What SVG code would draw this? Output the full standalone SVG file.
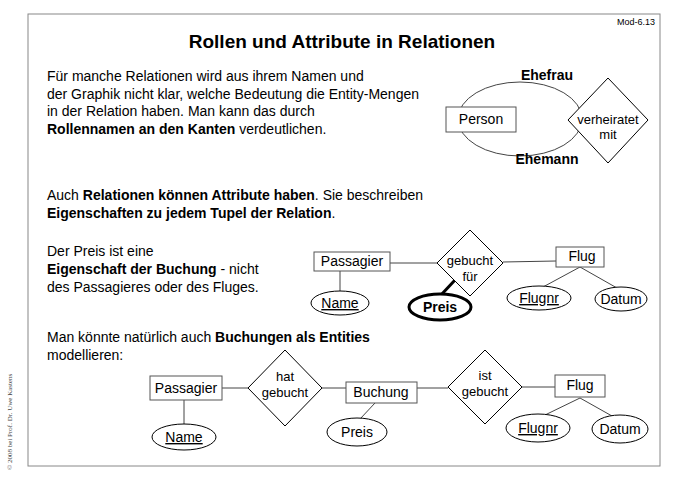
<svg xmlns="http://www.w3.org/2000/svg" width="678" height="480" viewBox="0 0 678 480">
<style>
text{font-family:"Liberation Sans",Arial,sans-serif;font-size:14px;fill:#000}
.b{font-weight:bold}
.c{text-anchor:middle}
.d{font-size:13px}
.box{fill:#fff;stroke:#555;stroke-width:1}
.dia{fill:#fff;stroke:#000;stroke-width:1}
.ell{fill:#fff;stroke:#000;stroke-width:1}
.ln{stroke:#444;stroke-width:1;fill:none}
</style>
<rect x="28" y="14" width="632" height="452" fill="#fff" stroke="#888" stroke-width="1"/>
<text x="655" y="25" style="font-size:9px;text-anchor:end">Mod-6.13</text>
<text x="342" y="48" class="b c" style="font-size:19px">Rollen und Attribute in Relationen</text>
<text x="47" y="81">Für manche Relationen wird aus ihrem Namen und</text>
<text x="47" y="99">der Graphik nicht klar, welche Bedeutung die Entity-Mengen</text>
<text x="47" y="116">in der Relation haben. Man kann das durch</text>
<text x="47" y="134"><tspan class="b">Rollennamen an den Kanten</tspan> verdeutlichen.</text>
<text x="47" y="200">Auch <tspan class="b">Relationen können Attribute haben</tspan>. Sie beschreiben</text>
<text x="47" y="218"><tspan class="b">Eigenschaften zu jedem Tupel der Relation</tspan>.</text>
<text x="47" y="256">Der Preis ist eine</text>
<text x="47" y="274"><tspan class="b">Eigenschaft der Buchung</tspan> - nicht</text>
<text x="47" y="292">des Passagieres oder des Fluges.</text>
<text x="47" y="342">Man könnte natürlich auch <tspan class="b">Buchungen als Entities</tspan></text>
<text x="47" y="360">modellieren:</text>
<text transform="translate(12,470) rotate(-90)" style="font-family:'Liberation Serif',serif;font-size:7px;fill:#444">© 2008 bei Prof. Dr. Uwe Kastens</text>
<g id="connectors">
<ellipse cx="520" cy="119" rx="62" ry="37" class="ln"/>
<line x1="390" y1="263" x2="437" y2="263" class="ln"/>
<line x1="503" y1="262" x2="556" y2="261" class="ln" stroke="#aaa"/>
<line x1="340" y1="270" x2="340" y2="291" class="ln"/>
<line x1="455" y1="280" x2="441" y2="295" stroke="#000" stroke-width="3"/>
<line x1="580" y1="267" x2="543" y2="287" class="ln"/>
<line x1="580" y1="267" x2="617" y2="288" class="ln"/>
<line x1="222" y1="388" x2="248" y2="388" class="ln"/>
<line x1="322" y1="388" x2="346" y2="388" class="ln"/>
<line x1="417" y1="388" x2="448" y2="388" class="ln"/>
<line x1="522" y1="387" x2="555" y2="387" class="ln"/>
<line x1="184" y1="400" x2="184" y2="424" class="ln"/>
<line x1="375" y1="403" x2="360" y2="419" class="ln"/>
<line x1="580" y1="398" x2="545" y2="415" class="ln"/>
<line x1="580" y1="398" x2="612" y2="416" class="ln"/>
</g>
<g id="person"><rect x="446" y="107" width="70" height="25" class="box"/><text x="481" y="124" class="c">Person</text></g>
<g id="verheiratet"><polygon points="608,78 648,120 608,163 568,120" class="dia"/><text x="608" y="124" class="c d">verheiratet</text><text x="608" y="139" class="c d">mit</text></g>
<text x="547" y="80" class="b c">Ehefrau</text>
<text x="547" y="164" class="b c">Ehemann</text>
<g id="passagier1"><rect x="314" y="252" width="76" height="19" class="box"/><text x="352" y="266" class="c">Passagier</text></g>
<g id="gebuchtfuer"><polygon points="470,230 503,263 470,296 437,263" class="dia"/><text x="470" y="265" class="c d">gebucht</text><text x="470" y="281" class="c d">für</text></g>
<g id="flug1"><rect x="556" y="247" width="48" height="20" class="box"/><text x="582" y="261" class="c">Flug</text></g>
<g id="name1"><ellipse cx="340" cy="303" rx="29" ry="12" class="ell"/><text x="340" y="308" class="c" text-decoration="underline">Name</text></g>
<g id="preis1"><ellipse cx="440" cy="307" rx="31" ry="13" fill="#fff" stroke="#000" stroke-width="3"/><text x="440" y="312" class="b c">Preis</text></g>
<g id="flugnr1"><ellipse cx="539" cy="298" rx="32" ry="12" class="ell"/><text x="539" y="303" class="c" text-decoration="underline">Flugnr</text></g>
<g id="datum1"><ellipse cx="621" cy="299" rx="26" ry="12" class="ell"/><text x="621" y="304" class="c">Datum</text></g>
<g id="passagier2"><rect x="150" y="376" width="72" height="24" class="box"/><text x="186" y="393" class="c">Passagier</text></g>
<g id="hatgebucht"><polygon points="285,350 322,388 285,426 248,388" class="dia"/><text x="285" y="381" class="c d">hat</text><text x="285" y="397" class="c d">gebucht</text></g>
<g id="buchung"><rect x="346" y="382" width="71" height="21" class="box"/><text x="381" y="397" class="c">Buchung</text></g>
<g id="istgebucht"><polygon points="485,350 522,387 485,424 448,387" class="dia"/><text x="485" y="380" class="c d">ist</text><text x="485" y="396" class="c d">gebucht</text></g>
<g id="flug2"><rect x="555" y="375" width="50" height="22" class="box"/><text x="580" y="390" class="c">Flug</text></g>
<g id="name2"><ellipse cx="184" cy="437" rx="32" ry="13" class="ell"/><text x="184" y="442" class="c" text-decoration="underline">Name</text></g>
<g id="preis2"><ellipse cx="357" cy="432" rx="30" ry="14" class="ell"/><text x="357" y="437" class="c">Preis</text></g>
<g id="flugnr2"><ellipse cx="538" cy="428" rx="32" ry="14" class="ell"/><text x="538" y="433" class="c" text-decoration="underline">Flugnr</text></g>
<g id="datum2"><ellipse cx="620" cy="429" rx="28" ry="14" class="ell"/><text x="620" y="434" class="c">Datum</text></g>
</svg>
